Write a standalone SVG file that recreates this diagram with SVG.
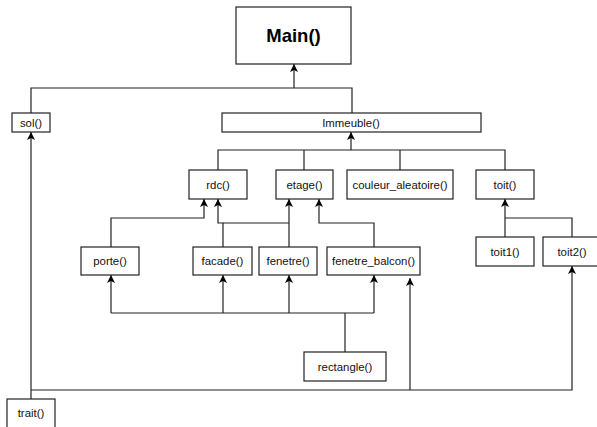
<svg xmlns="http://www.w3.org/2000/svg" width="597" height="427" viewBox="0 0 597 427">
<defs>
<style>
.box{fill:#fff;stroke:#222;stroke-width:1.2}
.t{font-family:"Liberation Sans",Arial,sans-serif;font-size:11.4px;fill:#111;text-anchor:middle}
.tb{font-family:"Liberation Sans",Arial,sans-serif;font-size:18.5px;font-weight:bold;fill:#000;text-anchor:middle}
.c{fill:none;stroke:#222;stroke-width:1.2}
.a{marker-end:url(#arr)}
</style>
<marker id="arr" viewBox="0 0 8 8" refX="8" refY="4" markerWidth="8" markerHeight="9" markerUnits="userSpaceOnUse" orient="auto">
<path d="M0,0 L8,4 L0,8 L2,4 Z" fill="#000"/>
</marker>
</defs>
<rect width="597" height="427" fill="#fff"/>
<g id="connectors">
<path class="c a" d="M294,88 V64"/>
<path class="c" d="M31,113 V88 H352 V113"/>
<path class="c a" d="M351,150 V132"/>
<path class="c" d="M218,170 V150 H505 V170"/>
<path class="c" d="M304,150 V170"/>
<path class="c" d="M400,150 V170"/>
<path class="c a" d="M111,247 V218 H204 V199"/>
<path class="c a" d="M223,247 V223 H218 V199"/>
<path class="c" d="M223,223 H289"/>
<path class="c a" d="M289,247 V199"/>
<path class="c a" d="M374,247 V223 H319 V199"/>
<path class="c a" d="M505,237 V199"/>
<path class="c" d="M505,218 H572 V237"/>
<path class="c" d="M345,352 V313"/>
<path class="c" d="M111,313 H374"/>
<path class="c a" d="M111,313 V275"/>
<path class="c a" d="M223,313 V275"/>
<path class="c a" d="M289,313 V275"/>
<path class="c a" d="M374,313 V275"/>
<path class="c a" d="M31,399 V132"/>
<path class="c a" d="M31,390 H572 V266"/>
<path class="c a" d="M410,390 V278"/>
</g>
<g id="main"><rect class="box" x="236" y="7" width="115" height="57"/><text class="tb" x="293.5" y="42">Main()</text></g>
<g id="sol"><rect class="box" x="12" y="113" width="38" height="19"/><text class="t" x="31" y="126.5">sol()</text></g>
<g id="immeuble"><rect class="box" x="222" y="113" width="259" height="19"/><text class="t" x="351" y="126.5">Immeuble()</text></g>
<g id="rdc"><rect class="box" x="189" y="170" width="58" height="29"/><text class="t" x="218" y="188.5">rdc()</text></g>
<g id="etage"><rect class="box" x="276" y="170" width="57" height="29"/><text class="t" x="304.5" y="188.5">etage()</text></g>
<g id="couleur_aleatoire"><rect class="box" x="347" y="170" width="106" height="29"/><text class="t" x="400" y="188.5">couleur_aleatoire()</text></g>
<g id="toit"><rect class="box" x="476" y="170" width="58" height="29"/><text class="t" x="505" y="188.5">toit()</text></g>
<g id="porte"><rect class="box" x="81" y="247" width="58" height="28"/><text class="t" x="110" y="265">porte()</text></g>
<g id="facade"><rect class="box" x="193" y="247" width="59" height="28"/><text class="t" x="222.5" y="265">facade()</text></g>
<g id="fenetre"><rect class="box" x="259" y="247" width="58" height="28"/><text class="t" x="288" y="265">fenetre()</text></g>
<g id="fenetre_balcon"><rect class="box" x="327" y="247" width="93" height="28"/><text class="t" x="373.5" y="265">fenetre_balcon()</text></g>
<g id="toit1"><rect class="box" x="476" y="237" width="58" height="29"/><text class="t" x="505" y="255.5">toit1()</text></g>
<g id="toit2"><rect class="box" x="543" y="237" width="58" height="29"/><text class="t" x="572" y="255.5">toit2()</text></g>
<g id="rectangle"><rect class="box" x="304" y="352" width="82" height="29"/><text class="t" x="345" y="370.5">rectangle()</text></g>
<g id="trait"><rect class="box" x="7" y="399" width="48" height="32"/><text class="t" x="31" y="417">trait()</text></g>
</svg>
